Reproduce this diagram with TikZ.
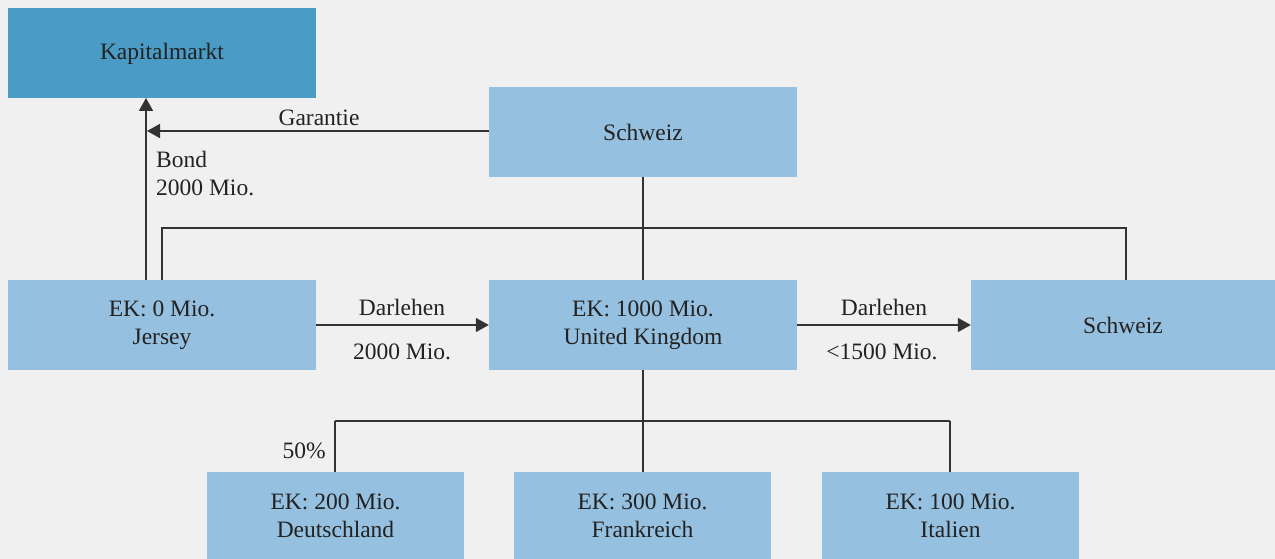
\documentclass[tikz,border=0pt]{standalone}
\usepackage{fontspec}
\setmainfont{Liberation Serif}
\usetikzlibrary{arrows.meta}
\definecolor{bg}{HTML}{F0F0F0}
\definecolor{dark}{HTML}{4A9CC6}
\definecolor{light}{HTML}{95C0DF}
\definecolor{ink}{HTML}{222222}
\definecolor{wire}{HTML}{333333}
\tikzset{
  box/.style={fill=light, draw=none, minimum width=308pt, minimum height=90pt, inner sep=0pt, align=center, text=ink},
  subbox/.style={box, minimum width=257pt, minimum height=88pt},
  topbox/.style={box, fill=dark},
  wireline/.style={draw=wire, line width=1.5pt},
  arr/.style={wireline, -{Triangle[length=13pt,width=14pt]}},
  lbl/.style={text=ink, inner sep=0pt}
}
\begin{document}
\begin{tikzpicture}[x=1pt,y=-1pt, font=\fontsize{23.5}{28}\selectfont]
\fill[bg] (0,0) rectangle (1275,559);
\useasboundingbox (0,0) rectangle (1275,559);
\node[topbox] (kap) at (162,53.5) {Kapitalmarkt};
\node[box] (sch1) at (643,132) {Schweiz};
\node[box] (jer) at (162,325) {EK: 0 Mio.\\Jersey};
\node[box] (uk) at (643,325) {EK: 1000 Mio.\\United Kingdom};
\node[box, minimum width=304pt] (sch2) at (1123,325) {Schweiz};
\node[subbox] (de) at (335.5,516) {EK: 200 Mio.\\Deutschland};
\node[subbox] (fr) at (642.5,516) {EK: 300 Mio.\\Frankreich};
\node[subbox] (it) at (950.5,516) {EK: 100 Mio.\\Italien};
% coordinates
\coordinate (bondtop) at (146,98);
\coordinate (bondbot) at (146,280);
\coordinate (garend) at (147,131);
\coordinate (jtop) at (162,280);
\coordinate (jcorner) at (162,228);
\coordinate (scorner) at (1126,228);
\coordinate (stop) at (1126,280);
\coordinate (bus) at (643,421);
\coordinate (decorner) at (335,421);
\coordinate (itcorner) at (950,421);
% connectors
\draw[arr] (bondbot) -- (bondtop);
\draw[arr] (sch1.west |- garend) -- (garend);
\draw[wireline] (jtop) -- (jcorner) -- (scorner) -- (stop);
\draw[wireline] (sch1.south) -- (uk.north);
\draw[arr] (jer.east) -- (uk.west);
\draw[arr] (uk.east) -- (sch2.west);
\draw[wireline] (uk.south) -- (bus);
\draw[wireline] (decorner) -- (itcorner);
\draw[wireline] (decorner) -- (de.north -| decorner);
\draw[wireline] (bus) -- (fr.north -| bus);
\draw[wireline] (itcorner) -- (it.north -| itcorner);
% labels
\node[lbl] (garl) at (319,118) {Garantie};
\node[lbl, anchor=west, align=left] (bondl) at (156,174) {Bond\\2000 Mio.};
\node[lbl] (d1a) at (402,307) {Darlehen};
\node[lbl] (d1b) at (402,352) {2000 Mio.};
\node[lbl] (d2a) at (884,307) {Darlehen};
\node[lbl] (d2b) at (882,352) {<1500 Mio.};
\node[lbl, anchor=east] (pct) at (326,451) {50\%};
\end{tikzpicture}
\end{document}
